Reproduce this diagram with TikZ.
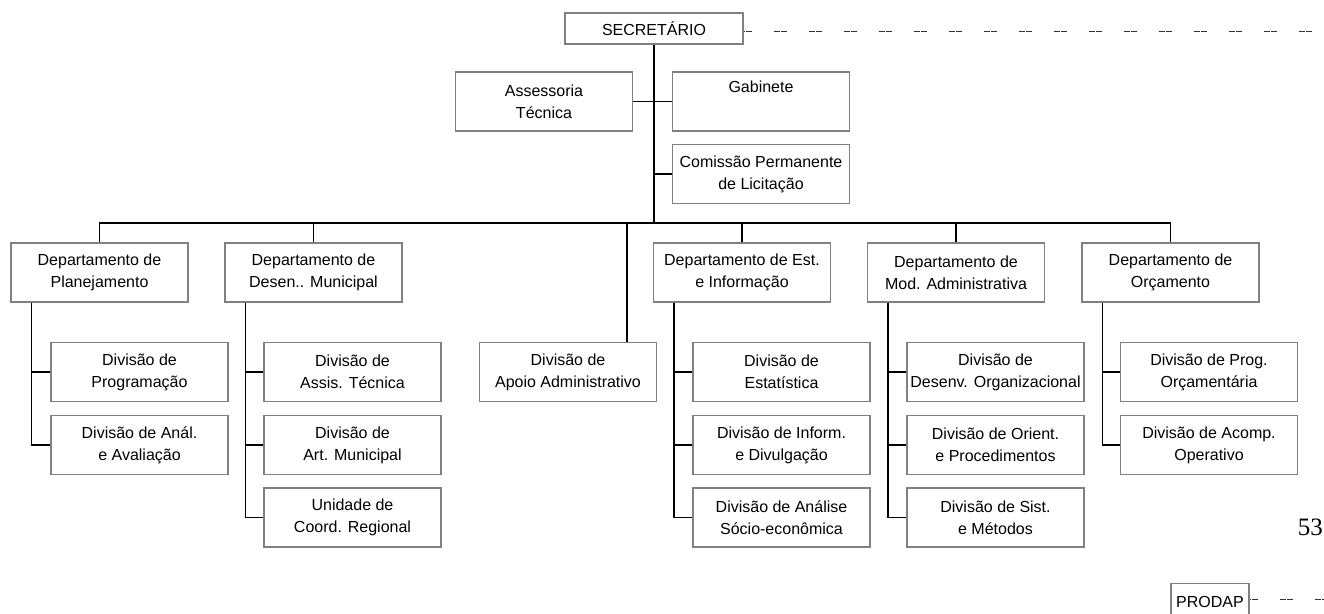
\documentclass[tikz,border=0pt]{standalone}
\usepackage{fontspec}
\setmainfont{Liberation Sans}
\newfontfamily\pagenumfont{Liberation Serif}
\begin{document}
\begin{tikzpicture}[x=1pt,y=-1pt,
  boxframe/.style={draw=boxgray, line width=1.4pt, fill=white, inner sep=0pt,
    align=center, font=\fontsize{16}{22}\selectfont},
  unitbox/.style={boxframe, minimum width=177pt, minimum height=59pt},
  conn/.style={line width=1.6pt, draw=black},
  linkdash/.style={line width=1pt, draw=dashgray, dash pattern=on 6pt off 1.5pt on 6pt off 21.5pt}]
\definecolor{boxgray}{RGB}{128,128,128}
\definecolor{dashgray}{RGB}{50,50,50}
\useasboundingbox (0,0) rectangle (1324,613);

% top level
\coordinate (secEnd) at (1324,31);
\coordinate (bus) at (654,223);
\coordinate (apoioTap) at (627,223);
\draw[linkdash, dash phase=4.5pt] (743,31) coordinate (secRight) -- (secEnd);
\node[boxframe, minimum width=178pt, minimum height=31pt] (sec) at (654,28.5) {SECRETÁRIO};

\node[unitbox] (ass) at (544,101.5) {Assessoria\\Técnica};
\node[unitbox] (gab) at (761,101.5) {Gabinete\\\strut};
\node[unitbox] (com) at (761,174) {Comissão Permanente\\de Licitação};

% departments
\node[unitbox] (d1) at (99.5,272.5) {Departamento de\\Planejamento};
\node[unitbox] (d2) at (313.5,272.5) {Departamento de\\Desen.. Municipal};
\node[unitbox] (d3) at (742,272.5) {Departamento de Est.\\e Informação};
\node[unitbox] (d4) at (956,272.5) {Departamento de\\Mod. Administrativa};
\node[unitbox] (d5) at (1170.5,272.5) {Departamento de\\Orçamento};

\node[unitbox] (apoio) at (568,372) {Divisão de\\Apoio Administrativo};

% divisions
\node[unitbox] (d1a) at (139.5,372) {Divisão de\\Programação};
\node[unitbox] (d1b) at (139.5,445) {Divisão de Anál.\\e Avaliação};

\node[unitbox] (d2a) at (352.5,372) {Divisão de\\Assis. Técnica};
\node[unitbox] (d2b) at (352.5,445) {Divisão de\\Art. Municipal};
\node[unitbox] (d2c) at (352.5,517.5) {Unidade de\\Coord. Regional};

\node[unitbox] (d3a) at (781.5,372) {Divisão de\\Estatística};
\node[unitbox] (d3b) at (781.5,445) {Divisão de Inform.\\e Divulgação};
\node[unitbox] (d3c) at (781.5,517.5) {Divisão de Análise\\Sócio-econômica};

\node[unitbox] (d4a) at (995.5,372) {Divisão de\\Desenv. Organizacional};
\node[unitbox] (d4b) at (995.5,445) {Divisão de Orient.\\e Procedimentos};
\node[unitbox] (d4c) at (995.5,517.5) {Divisão de Sist.\\e Métodos};

\node[unitbox] (d5a) at (1209,372) {Divisão de Prog.\\Orçamentária};
\node[unitbox] (d5b) at (1209,445) {Divisão de Acomp.\\Operativo};

% external body at the foot
\coordinate (prodapEnd) at (1324,599);
\draw[linkdash, dash phase=5.5pt] (1250,599) -- (prodapEnd);
\node[boxframe, anchor=north, minimum width=78pt, minimum height=36pt] (prodap) at (1210,583) {PRODAP};

\node[font=\pagenumfont\fontsize{25}{25}\selectfont, anchor=base east, inner sep=0pt] (pnum) at (1323,535) {53};

% connectors
\draw[conn] (sec.south) -- (bus);
\draw[conn] (ass.east) -- (gab.west);
\draw[conn] (sec.south |- com.west) -- (com.west);
\draw[conn] (d1.north) -- (d1.north |- bus) -| (d5.north);
\draw[conn] (d2.north) -- (d2.north |- bus);
\draw[conn] (d3.north) -- (d3.north |- bus);
\draw[conn] (d4.north) -- (d4.north |- bus);
\draw[conn] (apoioTap) -- (apoioTap |- apoio.north);

\foreach \d/\kids in {d1/{d1a,d1b}, d2/{d2a,d2b,d2c}, d3/{d3a,d3b,d3c}, d4/{d4a,d4b,d4c}, d5/{d5a,d5b}}{
  \foreach \k in \kids {
    \draw[conn] ([xshift=21pt]\d.south west) |- (\k.west);
  }
}
\end{tikzpicture}
\end{document}
